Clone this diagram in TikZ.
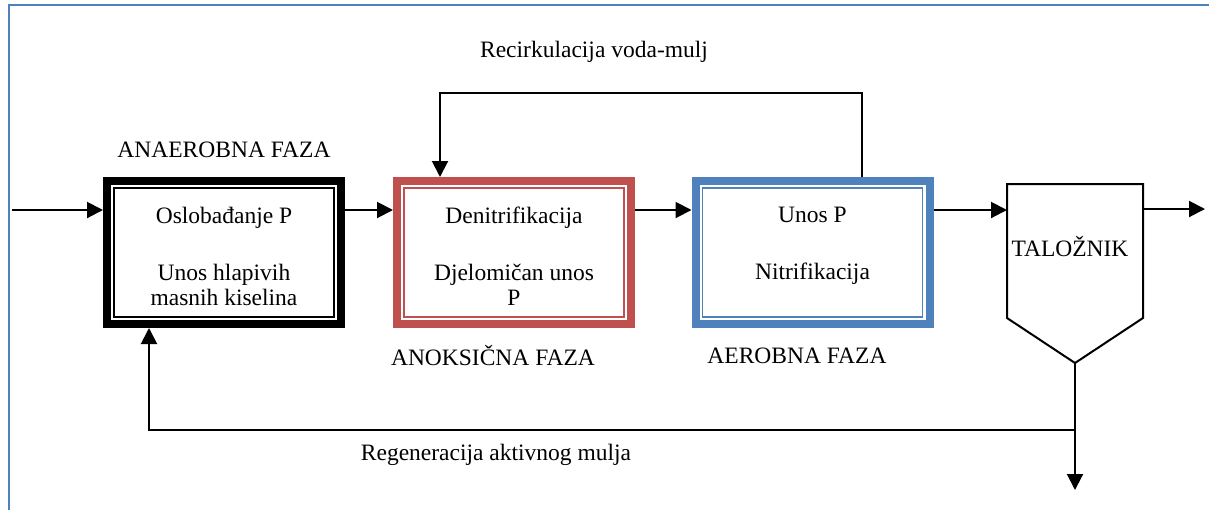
\documentclass[tikz,border=0pt]{standalone}
\usepackage{fontspec}
\setmainfont{Liberation Serif}
\usetikzlibrary{arrows.meta,positioning}
\definecolor{crvena}{RGB}{192,80,77}
\definecolor{plava}{RGB}{79,129,189}
\begin{document}
\begin{tikzpicture}[x=.5pt,y=-.5pt, font=\fontsize{11.75}{12.5}\selectfont,
 faza/.style={draw=#1, line width=4pt, minimum width=117pt, minimum height=71.5pt},
 tekst/.style={anchor=north, align=center, inner sep=0pt},
 arr/.style={line width=1pt, -{Triangle[length=8pt,width=8pt]}},
 lin/.style={line width=1pt}]
\useasboundingbox (0,0) rectangle (1209,510);
\draw[plava, line width=1.1pt] (9,510) -- (9,5) -- (1209,5);
% reaktori
\node[faza=black] (b1) at (224,252.5) {};
\node[faza=crvena] (b2) at (514,252.5) {};
\node[faza=plava] (b3) at (812.5,252.5) {};
\foreach \b/\c in {b1/black, b2/crvena, b3/plava}
  \draw[\c, line width=.75pt] ([shift={(11,11)}]\b.north west) rectangle ([shift={(-11,-11)}]\b.south east);
\node[tekst] (t1) at ([shift={(0,30)}]b1.north) {Oslobađanje P\\[16pt]Unos hlapivih\\masnih kiselina};
\node[tekst] (t2) at ([shift={(0,30)}]b2.north) {Denitrifikacija\\[16pt]Djelomičan unos\\P};
\node[tekst] (t3) at ([shift={(0,30)}]b3.north) {Unos P\\[16pt]Nitrifikacija};
% talo\v znik
\node[minimum width=68pt, minimum height=67pt, outer sep=0pt, inner sep=0pt] (tal) at (1075,251) {};
\node (tnaziv) at ([shift={(-5,-4)}]tal.center) {TALOŽNIK};
\coordinate (dno) at (1075,363);
\draw[lin] (tal.south west) -- (tal.north west) -- (tal.north east) -- (tal.south east) -- (dno) -- cycle;
% natpisi
\node (rec) at (594,52) {Recirkulacija voda-mulj};
\node (anaer) at (224,150) {ANAEROBNA FAZA};
\node (anoks) at (493,356) {ANOKSIČNA FAZA};
\node (aer) at (797,356) {AEROBNA FAZA};
\node (reg) at (496,455) {Regeneracija aktivnog mulja};
% tokovi
\coordinate (ulaz) at (12,210);
\coordinate (van) at (1205,209);
\coordinate (izlaz) at (1075,490);
\draw[arr] (ulaz) -- (ulaz -| b1.west);
\foreach \a/\b in {b1/b2, b2/b3, b3/tal}
  \draw[arr] (ulaz -| \a.east) -- (ulaz -| \b.west);
\draw[arr] (van -| tal.east) -- (van);
\draw[arr] ([xshift=24.75pt]b3.north) -- ++(0,-84) -| ([xshift=-37pt]b2.north);
\draw[arr] (dno) -- (izlaz);
\draw[arr] (dno |- 0,430) -| ([xshift=-37.5pt]b1.south);
\end{tikzpicture}
\end{document}
